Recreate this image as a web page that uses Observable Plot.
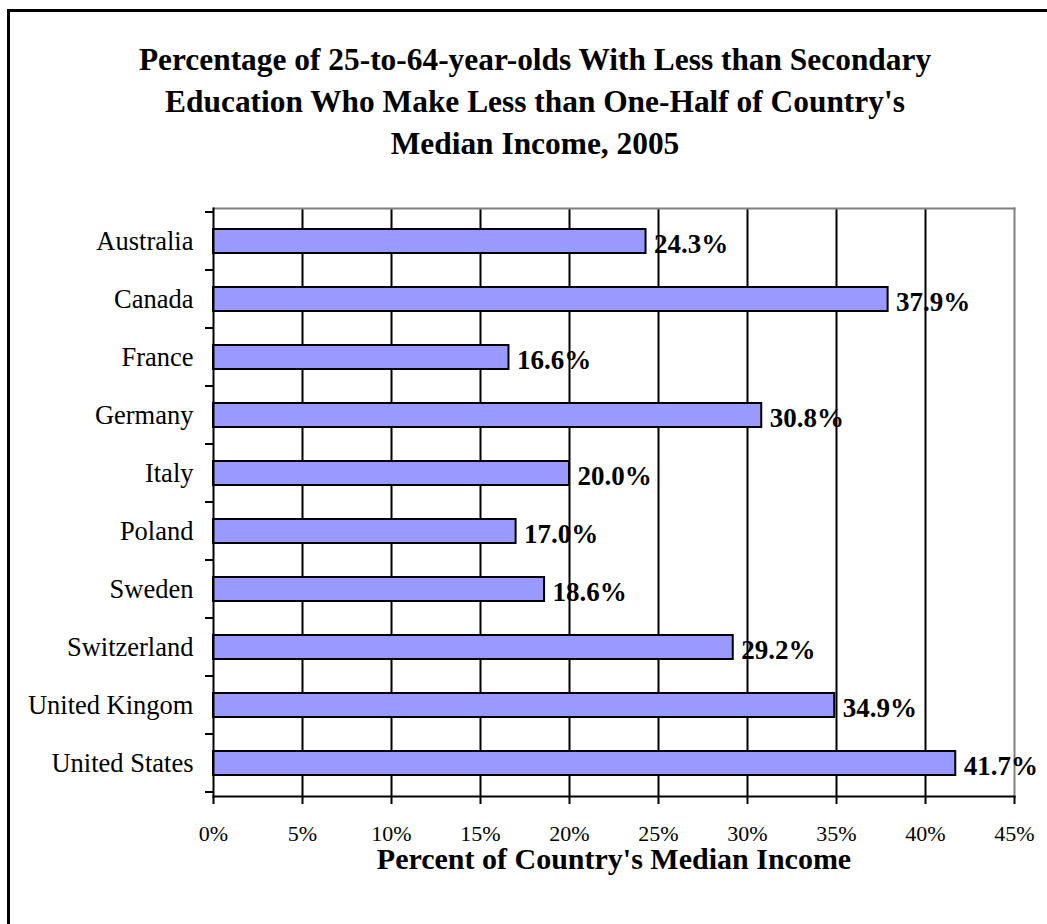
<!DOCTYPE html>
<html>
<head>
<meta charset="utf-8">
<script src="https://cdn.jsdelivr.net/npm/d3@7"></script>
<script src="https://cdn.jsdelivr.net/npm/@observablehq/plot@0.6"></script>
<style>
  html, body { margin: 0; padding: 0; background: #fff; }
  body { width: 1047px; height: 924px; overflow: hidden; position: relative; font-family: "Liberation Serif", "Times New Roman", serif; }
  #frame { position: absolute; left: 7px; top: 9px; width: 1200px; height: 1200px; border-left: 3px solid #000; border-top: 3px solid #000; box-sizing: border-box; }
  #title { position: absolute; left: 35px; width: 1000px; top: 39px; text-align: center; font-weight: bold; font-size: 31.4px; line-height: 42px; color: #000; }
  #chart { position: absolute; left: 0; top: 190px; }
  #chart svg { overflow: visible; }
</style>
</head>
<body>
<div id="frame"></div>
<div id="title">Percentage of 25-to-64-year-olds With Less than Secondary<br>Education Who Make Less than One-Half of Country's<br>Median Income, 2005</div>
<div id="chart"></div>
<script>
const countries = ["Australia", "Canada", "France", "Germany", "Italy", "Poland", "Sweden", "Switzerland", "United Kingom", "United States"];
const values = [24.3, 37.9, 16.6, 30.8, 20.0, 17.0, 18.6, 29.2, 34.9, 41.7];
const xTicks = [0, 5, 10, 15, 20, 25, 30, 35, 40, 45];
const gridTicks = [5, 10, 15, 20, 25, 30, 35, 40];
const xLabel = "Percent of Country's Median Income";

const data = countries.map((c, i) => ({country: c, value: values[i]}));

// Category boundary ticks drawn from the band scale
function boundaryTicks(index, scales, values, dimensions) {
  const y = scales.y;
  const bw = y.bandwidth();
  const step = y.step ? y.step() : bw / (1 - 0.59);
  const g = d3.create("svg:g");
  const x0 = dimensions.marginLeft;
  const ys = countries.map(c => y(c) - (step - bw) / 2);
  ys.push(y(countries[countries.length - 1]) + bw + (step - bw) / 2);
  for (const yy of ys) {
    g.append("line").attr("x1", x0 - 8).attr("x2", x0).attr("y1", yy).attr("y2", yy)
      .attr("stroke", "#000").attr("stroke-width", 2);
  }
  return g.node();
}

const plot = Plot.plot({
  width: 1047,
  height: 700,
  marginTop: 18,
  marginBottom: 94,
  marginLeft: 213,
  marginRight: 33,
  style: {fontFamily: "'Liberation Serif', 'Times New Roman', serif", fontSize: "22px", color: "#000", background: "transparent"},
  x: {domain: [0, 45]},
  y: {domain: countries, paddingInner: 0.59, paddingOuter: 0.295},
  marks: [
    Plot.ruleX(gridTicks, {stroke: "#000", strokeWidth: 2}),
    Plot.frame({anchor: "top", stroke: "#808080", strokeWidth: 2}),
    Plot.frame({anchor: "right", stroke: "#808080", strokeWidth: 2}),
    Plot.barX(data, {x: "value", y: "country", fill: "#9999FF", stroke: "#000", strokeWidth: 2}),
    Plot.text(data, {x: "value", y: "country", text: d => d.value.toFixed(1) + "%", textAnchor: "start", dx: 8, dy: 3, fontWeight: "bold", fontSize: 27, fill: "#000"}),
    Plot.frame({anchor: "left", stroke: "#000", strokeWidth: 2}),
    Plot.frame({anchor: "bottom", stroke: "#000", strokeWidth: 2}),
    boundaryTicks,
    Plot.axisY({tickSize: 0, tickPadding: 20, label: null, fontSize: 26.5}),
    Plot.axisX({ticks: xTicks, tickSize: 8, strokeWidth: 2, tickPadding: 21, tickFormat: d => d + "%", label: null, fontSize: 22}),
    Plot.text([xLabel], {frameAnchor: "bottom", lineAnchor: "middle", dy: 63, fontWeight: "bold", fontSize: 30, fill: "#000", text: d => d})
  ]
});
document.getElementById("chart").appendChild(plot);
</script>
</body>
</html>
